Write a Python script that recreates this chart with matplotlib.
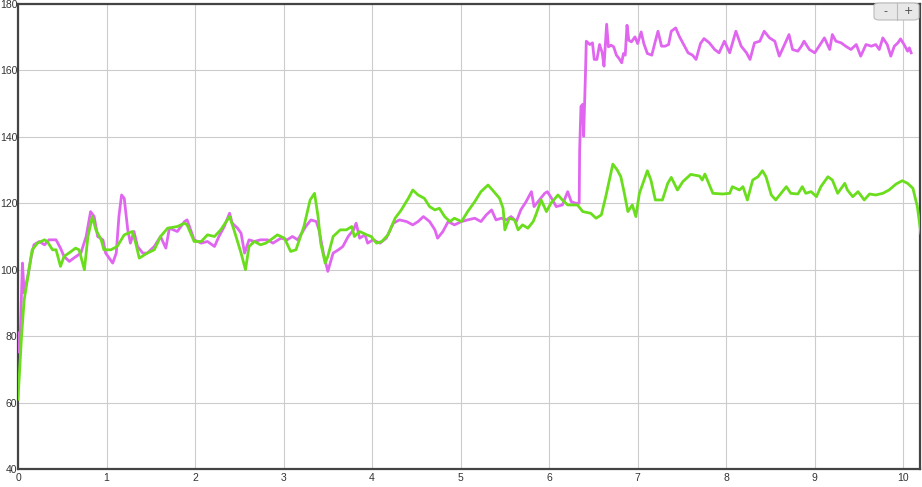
import matplotlib.pyplot as plt
from matplotlib.patches import FancyBboxPatch

# green series
green_x = [0.0, 0.04, 0.07, 0.13, 0.16, 0.22, 0.30, 0.33, 0.39, 0.43, 0.48, 0.52, 0.60, 0.65, 0.69,
           0.75, 0.79, 0.84, 0.88, 0.94, 0.97, 1.05, 1.12, 1.20, 1.29, 1.33, 1.37, 1.46, 1.54, 1.61,
           1.69, 1.80, 1.88, 1.91, 1.99, 2.07, 2.14, 2.22, 2.29, 2.39, 2.44, 2.52, 2.57, 2.61, 2.67,
           2.74, 2.80, 2.88, 2.93, 3.01, 3.08, 3.14, 3.23, 3.30, 3.35, 3.39, 3.42, 3.47, 3.50, 3.56,
           3.64, 3.71, 3.77, 3.80, 3.86, 3.94, 3.99, 4.05, 4.11, 4.18, 4.26, 4.33, 4.41, 4.46, 4.52,
           4.59, 4.65, 4.71, 4.76, 4.82, 4.88, 4.93, 5.01, 5.08, 5.16, 5.23, 5.31, 5.36, 5.44, 5.48,
           5.50, 5.55, 5.61, 5.65, 5.70, 5.76, 5.82, 5.85, 5.91, 5.97, 6.02, 6.10, 6.15, 6.21, 6.32,
           6.38, 6.47, 6.53, 6.59, 6.64, 6.72, 6.77, 6.81, 6.85, 6.89, 6.94, 6.98, 7.02, 7.11, 7.15,
           7.20, 7.28, 7.34, 7.38, 7.45, 7.51, 7.60, 7.70, 7.73, 7.76, 7.85, 7.96, 8.04, 8.07, 8.15,
           8.19, 8.24, 8.30, 8.36, 8.41, 8.45, 8.51, 8.56, 8.62, 8.68, 8.73, 8.81, 8.86, 8.90, 8.96,
           9.02, 9.07, 9.15, 9.20, 9.26, 9.34, 9.37, 9.43, 9.49, 9.56, 9.62, 9.69, 9.77, 9.84, 9.92,
           9.99, 10.05, 10.11, 10.16, 10.20]
green_y = [61, 80, 91, 101, 106, 108, 109, 108.5, 106, 106, 101, 104, 105.5, 106.5, 106,
           100, 110, 116, 112, 109, 106, 106, 107, 110.5, 111.5, 108, 103.5, 105, 106, 110,
           112.5, 113, 114, 113.5, 108.5, 108.5, 110.5, 110, 112, 116, 112, 105, 100, 107, 108.5,
           107.5, 108, 109.5, 110.5, 109.5, 105.5, 106, 113, 121, 123, 116, 108, 102, 104, 110,
           112, 112, 113, 110, 111.5, 110.5, 110, 108, 108.5, 110.5, 115.5, 118, 121.5, 124, 122.5,
           121.5, 119, 118, 118.5, 116, 114.5, 115.5, 114.5, 117.5, 120.5, 123.5, 125.5, 124, 121.5, 118.5,
           112, 115.5, 115, 112, 113.5, 112.5, 114.5, 116.5, 121, 117.5, 120, 122.5, 121, 119.5, 119.5,
           117.5, 117, 115.5, 116.5, 122, 131.8, 130, 128, 123, 117.5, 119.5, 116, 123, 129.8, 127,
           121, 121, 126, 127.8, 124, 126.5, 128.7, 128.2, 127, 128.8, 123, 122.8, 123, 125, 124,
           125, 121, 127, 128, 129.8, 128, 122.5, 121, 123, 125, 123, 122.8, 125, 123, 123.5,
           122, 125, 128, 127, 123, 126, 124, 122, 123.5, 121, 122.8, 122.5, 123, 124, 125.8,
           126.8, 126, 124.5, 119, 111]

# magenta series
pink_x = [0.0, 0.02, 0.05, 0.07, 0.11, 0.15, 0.18, 0.24, 0.30, 0.35, 0.43, 0.48, 0.52, 0.58, 0.63,
          0.71, 0.77, 0.82, 0.86, 0.90, 0.96, 0.99, 1.03, 1.07, 1.11, 1.14, 1.17, 1.20, 1.24, 1.27,
          1.31, 1.35, 1.41, 1.46, 1.54, 1.61, 1.67, 1.71, 1.80, 1.88, 1.91, 1.99, 2.07, 2.14, 2.22,
          2.27, 2.33, 2.39, 2.42, 2.48, 2.52, 2.56, 2.61, 2.67, 2.74, 2.82, 2.88, 2.97, 3.04, 3.10,
          3.16, 3.25, 3.31, 3.37, 3.40, 3.45, 3.50, 3.56, 3.62, 3.67, 3.73, 3.79, 3.82, 3.86, 3.92,
          3.95, 4.01, 4.09, 4.16, 4.24, 4.31, 4.39, 4.46, 4.52, 4.58, 4.65, 4.71, 4.74, 4.80, 4.86,
          4.93, 5.01, 5.08, 5.16, 5.23, 5.29, 5.35, 5.40, 5.46, 5.52, 5.57, 5.63, 5.68, 5.74, 5.80,
          5.83, 5.89, 5.95, 5.98, 6.04, 6.08, 6.15, 6.21, 6.25, 6.30, 6.34, 6.345, 6.36, 6.38, 6.39,
          6.41, 6.42, 6.46, 6.49, 6.51, 6.54, 6.57, 6.60, 6.62, 6.65, 6.67, 6.70, 6.73, 6.76, 6.79,
          6.82, 6.84, 6.86, 6.88, 6.90, 6.93, 6.97, 7.00, 7.04, 7.07, 7.11, 7.16, 7.20, 7.23, 7.27,
          7.31, 7.35, 7.38, 7.43, 7.47, 7.51, 7.57, 7.62, 7.66, 7.71, 7.75, 7.81, 7.87, 7.92, 7.98,
          8.04, 8.11, 8.17, 8.23, 8.27, 8.32, 8.38, 8.43, 8.49, 8.55, 8.60, 8.66, 8.71, 8.75, 8.81,
          8.85, 8.88, 8.94, 9.00, 9.05, 9.11, 9.17, 9.20, 9.24, 9.30, 9.35, 9.41, 9.47, 9.52, 9.58,
          9.64, 9.69, 9.73, 9.77, 9.82, 9.86, 9.90, 9.94, 9.97, 10.01, 10.05, 10.07, 10.09]
pink_y = [81, 75, 102, 93, 98, 104, 107.5, 108.5, 107.5, 109, 109, 106.5, 104, 102.5, 103.5,
          105, 110, 117.5, 116, 110, 109, 105, 103.5, 102, 105, 116, 122.5, 121.5, 112, 108,
          111.5, 107, 105, 105, 107, 110, 106.5, 112.5, 111.5, 114.5, 115, 109, 108, 108.5, 107,
          110, 113, 117, 114, 112.5, 111, 105, 109, 108.5, 109, 109, 108, 109.5, 109, 110,
          109, 113, 115, 114.5, 112, 105, 99.5, 105, 106, 107, 110, 112, 114, 109.5, 110.5,
          108, 109, 108, 109.5, 114, 115, 114.5, 113.5, 114.5, 116, 114.5, 112, 109.5, 111.5, 114.5,
          113.5, 114.5, 115, 115.5, 114.5, 116.5, 118, 115, 115.5, 115, 116, 114.5, 118, 120.5, 123.5,
          119, 121, 123, 123.5, 121, 119, 119.5, 123.5, 120.5, 120, 120, 136, 149.2, 149.8, 140.2,
          158.3, 168.8, 167.8, 168.3, 163.3, 163.3, 167.8, 165.3, 161.3, 173.9, 167.1, 167.6, 167.1, 164.6, 163.6,
          162.3, 165.1, 164.6, 173.6, 169.1, 168.6, 170.1, 168.1, 171.6, 168.1, 165.1, 164.6, 168.8, 171.8, 167.3,
          167.3, 167.8, 171.8, 172.8, 170.3, 168.3, 165.3, 164.6, 163.3, 168.1, 169.6, 168.3, 166.3, 165.3, 168.8,
          165.3, 171.8, 167.3, 165.3, 163.3, 168.3, 168.8, 171.8, 169.8, 168.8, 164.3, 167.8, 170.8, 166.3, 165.8,
          167.3, 168.8, 166.3, 165.3, 167.3, 169.8, 166.3, 170.8, 168.8, 168.3, 167.3, 166.3, 167.8, 164.3, 167.8,
          167.3, 167.8, 166.3, 169.8, 167.8, 164.3, 167.3, 168.3, 169.5, 167.8, 165.8, 166.8, 165.3]

x_ticks = [0, 1, 2, 3, 4, 5, 6, 7, 8, 9, 10]
y_ticks = [40, 60, 80, 100, 120, 140, 160, 180]

fig = plt.figure(figsize=(9.22, 4.87), dpi=100)
ax = fig.add_axes([18 / 922, 18 / 487, 902 / 922, 465 / 487])

ax.plot(pink_x, pink_y, color='#e066f0', linewidth=2.0, zorder=3)
ax.plot(green_x, green_y, color='#6ade1c', linewidth=2.0, zorder=4)

ax.set_xlim(0, 10.19)
ax.set_ylim(40, 180)
ax.set_xticks(x_ticks)
ax.set_yticks(y_ticks)
ax.grid(True, color='#cccccc', linewidth=0.8)
ax.set_axisbelow(True)
for s in ax.spines.values():
    s.set_color('#444444')
    s.set_linewidth(1.6)
ax.tick_params(length=0, labelsize=7.5, labelcolor='#333333')
ax.tick_params(axis='y', pad=0.5)
ax.tick_params(axis='x', pad=3)
for lbl in ax.get_yticklabels() + ax.get_xticklabels():
    lbl.set_fontfamily('Liberation Sans')

# zoom buttons at top right
btn = FancyBboxPatch((874 / 922, 1 - 20 / 487), 45 / 922, 17 / 487,
                     boxstyle='round,pad=0,rounding_size=0.006', transform=fig.transFigure,
                     facecolor='#e8e8e8', edgecolor='#bbbbbb', linewidth=0.8, zorder=10)
fig.patches.append(btn)
fig.add_artist(plt.Line2D([897 / 922, 897 / 922], [1 - 20 / 487, 1 - 3 / 487],
                          transform=fig.transFigure, color='#bbbbbb', linewidth=0.8, zorder=11))
fig.text(885 / 922, 1 - 11.5 / 487, '-', ha='center', va='center', fontsize=8,
         color='#444444', zorder=12)
fig.text(908 / 922, 1 - 11.5 / 487, '+', ha='center', va='center', fontsize=8,
         color='#444444', zorder=12)

fig.savefig('out.png', dpi=100)
